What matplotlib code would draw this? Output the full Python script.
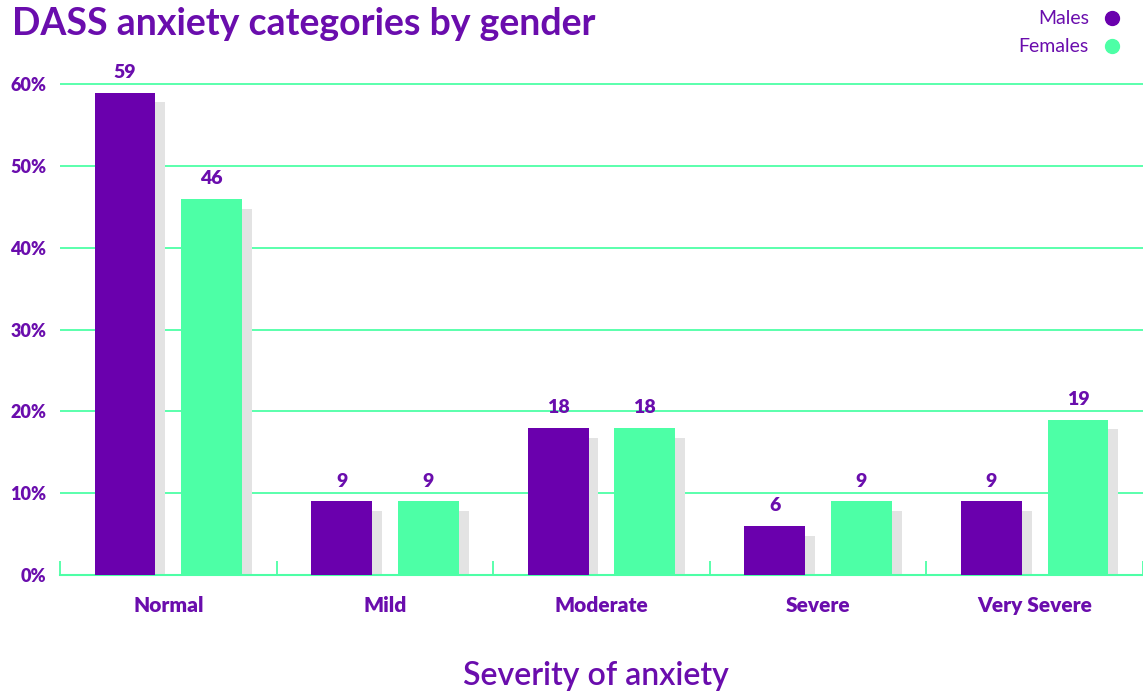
import matplotlib
matplotlib.use("Agg")
import matplotlib.pyplot as plt
import numpy as np

# data
categories = ["Normal", "Mild", "Moderate", "Severe", "Very Severe"]
males = [59, 9, 18, 6, 9]
females = [46, 9, 18, 9, 19]
yticks = [0, 10, 20, 30, 40, 50, 60]

PURPLE = "#6a00ad"
GREEN = "#4dffa6"
SHADOW = "#e3e3e3"
TEXT = "#6a0dad"

plt.rcParams["font.family"] = ["Lato", "DejaVu Sans"]

fig = plt.figure(figsize=(11.43, 6.92), dpi=100)
ax = fig.add_axes([60 / 1143, 117 / 692, 1 - 60 / 1143, (575 - 68) / 692])

x = np.arange(len(categories))
w = 0.28
dx = 0.046   # shadow offset (category units)
dy = 1.2     # shadow drop (percent units)

for vals, off, col in [(males, -0.2, PURPLE), (females, 0.2, GREEN)]:
    v = np.array(vals, dtype=float)
    ax.bar(x + off + dx, v - dy, width=w, color=SHADOW, zorder=2)
    ax.bar(x + off, v, width=w, color=col, zorder=3)
    for xi, vi in zip(x + off, v):
        ax.text(xi, vi + 1.4, f"{int(vi)}", ha="center", va="bottom",
                fontsize=14, fontweight="heavy", color=TEXT)

ax.set_xlim(-0.5, 4.5)
ax.set_ylim(0, 62)
ax.set_yticks(yticks)
ax.set_yticklabels([f"{t}%" for t in yticks])
ax.yaxis.grid(True, color=GREEN, linewidth=1.3, zorder=0)
ax.set_axisbelow(True)

ax.set_xticks(x)
ax.set_xticklabels(categories)
ax.set_xticks(np.arange(-0.5, 4.6, 1), minor=True)
ax.tick_params(axis="x", which="major", length=0, pad=15, labelsize=15,
               labelcolor=TEXT)
ax.tick_params(axis="x", which="minor", length=10, width=1.3, color=GREEN,
               direction="in")
ax.tick_params(axis="y", length=0, pad=10, labelsize=13, labelcolor=TEXT)
for lab in ax.get_xticklabels() + ax.get_yticklabels():
    lab.set_fontweight("heavy")

for s in ["top", "right", "left"]:
    ax.spines[s].set_visible(False)
ax.spines["bottom"].set_color(GREEN)
ax.spines["bottom"].set_linewidth(1.5)

ax.set_xlabel("Severity of anxiety", fontsize=23, color=TEXT, labelpad=33,
              fontweight="semibold")
ax.xaxis.set_label_coords(536 / 1083, -0.17)

fig.text(12 / 1143, 1 - 24 / 692, "DASS anxiety categories by gender",
         fontsize=27, fontweight="bold", color=TEXT, va="center", ha="left")

# legend
for label, col, yp in [("Males", PURPLE, 18), ("Females", GREEN, 46)]:
    fig.text(1089 / 1143, 1 - yp / 692, label, fontsize=14, color=TEXT,
             ha="right", va="center")
    fig.add_artist(plt.Line2D([1112 / 1143], [1 - yp / 692], marker="o",
                              markersize=10, color=col, linestyle="none",
                              transform=fig.transFigure))

fig.savefig("out.png", dpi=100)
